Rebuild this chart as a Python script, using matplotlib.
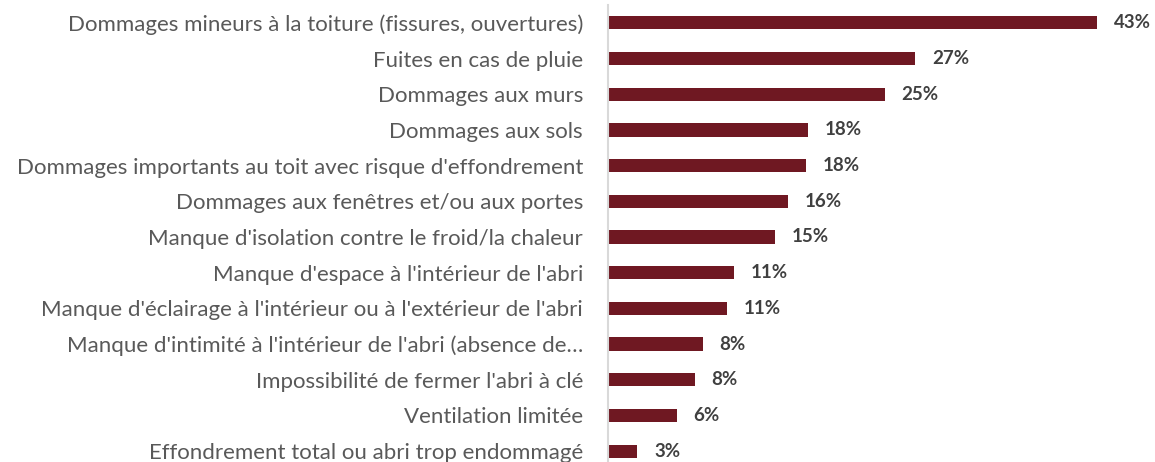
import matplotlib.pyplot as plt

# Données du graphique (valeurs estimées d'après la longueur des barres)
categories = [
    "Dommages mineurs à la toiture (fissures, ouvertures)",
    "Fuites en cas de pluie",
    "Dommages aux murs",
    "Dommages aux sols",
    "Dommages importants au toit avec risque d'effondrement",
    "Dommages aux fenêtres et/ou aux portes",
    "Manque d'isolation contre le froid/la chaleur",
    "Manque d'espace à l'intérieur de l'abri",
    "Manque d'éclairage à l'intérieur ou à l'extérieur de l'abri",
    "Manque d'intimité à l'intérieur de l'abri (absence de…",
    "Impossibilité de fermer l'abri à clé",
    "Ventilation limitée",
    "Effondrement total ou abri trop endommagé",
]
valeurs = [43.5, 27.3, 24.6, 17.8, 17.6, 16.0, 14.8, 11.2, 10.6, 8.4, 7.7, 6.1, 2.6]
etiquettes = ["43%", "27%", "25%", "18%", "18%", "16%", "15%", "11%", "11%", "8%", "8%", "6%", "3%"]

couleur_barre = "#6F1822"
couleur_texte = "#595959"

W, H = 1155, 462
fig = plt.figure(figsize=(W / 100, H / 100), dpi=100)

# Axe positionné en pixels (la dernière ligne est coupée en bas)
gauche = 608 / W
haut = 1 - 5 / H
hauteur = 464 / H
ax = fig.add_axes([gauche, haut - hauteur, 1 - gauche, hauteur])

pos = list(range(len(categories)))
ax.barh(pos, valeurs, height=0.37, color=couleur_barre)
ax.set_ylim(len(categories) - 0.5, -0.5)
ax.set_xlim(0, 547 / 11.25)

for y, v, t in zip(pos, valeurs, etiquettes):
    ax.text(v + 1.5, y, t, va="center", ha="left", fontsize=13.5,
            fontweight="bold", color="#404040", family="Lato")

ax.set_yticks(pos)
ax.set_yticklabels(categories, fontsize=16, color=couleur_texte, family="Lato")
ax.tick_params(axis="y", length=0, pad=18)
ax.set_xticks([])
for s in ["top", "right", "bottom"]:
    ax.spines[s].set_visible(False)
ax.spines["left"].set_color("#D9D9D9")
ax.spines["left"].set_linewidth(1.5)

fig.savefig("out.png", dpi=100)
